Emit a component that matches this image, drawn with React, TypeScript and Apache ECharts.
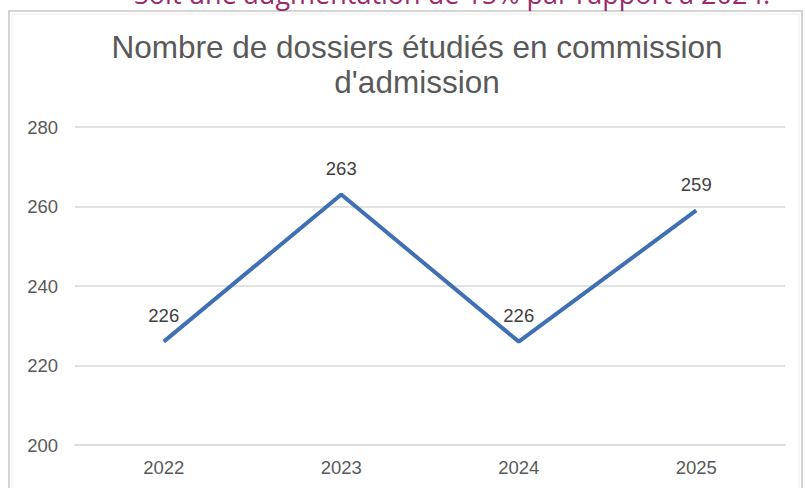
import React, { useEffect, useRef } from "react";
import * as echarts from "echarts";

const categories = ["2022", "2023", "2024", "2025"];
const values = [226, 263, 226, 259];
const yMin = 200;
const yMax = 280;
const yInterval = 20;
const titleText = "Nombre de dossiers étudiés en commission\nd'admission";
const noteText = "Soit une augmentation de 15% par rapport à 2024.";

export default function App() {
  const ref = useRef<HTMLDivElement>(null);
  useEffect(() => {
    if (!ref.current) return;
    const chart = echarts.init(ref.current, undefined, { renderer: "svg" });
    chart.setOption({
      animation: false,
      backgroundColor: "#ffffff",
      textStyle: { fontFamily: "Liberation Sans, Arial, sans-serif" },
      graphic: [
        {
          type: "rect",
          z: -10,
          silent: true,
          shape: { x: 9, y: 11, width: 793, height: 490 },
          style: { fill: "#ffffff", stroke: "#d4d4d4", lineWidth: 2 },
        },
        {
          type: "rect",
          z: -9,
          silent: true,
          shape: { x: 12, y: 14, width: 787, height: 490 },
          style: { fill: "none", stroke: "#efefef", lineWidth: 1 },
        },
        {
          type: "text",
          silent: true,
          x: 452,
          y: 7,
          style: {
            text: noteText,
            fill: "#9b2a6b",
            font: "27px 'Open Sans', sans-serif",
            align: "center",
            verticalAlign: "bottom",
          },
        },
      ],
      title: {
        text: titleText,
        left: 412,
        textAlign: "center",
        top: 24,
        textStyle: {
          color: "#595959",
          fontSize: 31.5,
          fontWeight: "normal",
          lineHeight: 35,
          fontFamily: "Liberation Sans, Arial, sans-serif",
        },
      },
      grid: { left: 75, right: 20, top: 127, bottom: 43 },
      xAxis: {
        type: "category",
        data: categories,
        boundaryGap: true,
        axisLine: { lineStyle: { color: "#d9d9d9", width: 1.5 } },
        axisTick: { show: false },
        axisLabel: { color: "#595959", fontSize: 18.5, margin: 13 },
      },
      yAxis: {
        type: "value",
        min: yMin,
        max: yMax,
        interval: yInterval,
        axisLine: { show: false },
        axisTick: { show: false },
        axisLabel: { color: "#595959", fontSize: 18.5, margin: 17 },
        splitLine: { lineStyle: { color: "#d9d9d9", width: 1.5 } },
      },
      series: [
        {
          type: "line",
          data: values,
          showSymbol: true,
          symbol: "circle",
          symbolSize: 1,
          lineStyle: { color: "#3e70b3", width: 4 },
          itemStyle: { color: "rgba(0,0,0,0)" },
          label: {
            show: true,
            position: "top",
            distance: 16,
            color: "#404040",
            fontSize: 18.5,
          },
        },
      ],
    });
    return () => chart.dispose();
  }, []);
  return (
    <div
      ref={ref}
      style={{ position: "fixed", left: 0, top: 0, width: 805, height: 488 }}
    />
  );
}
